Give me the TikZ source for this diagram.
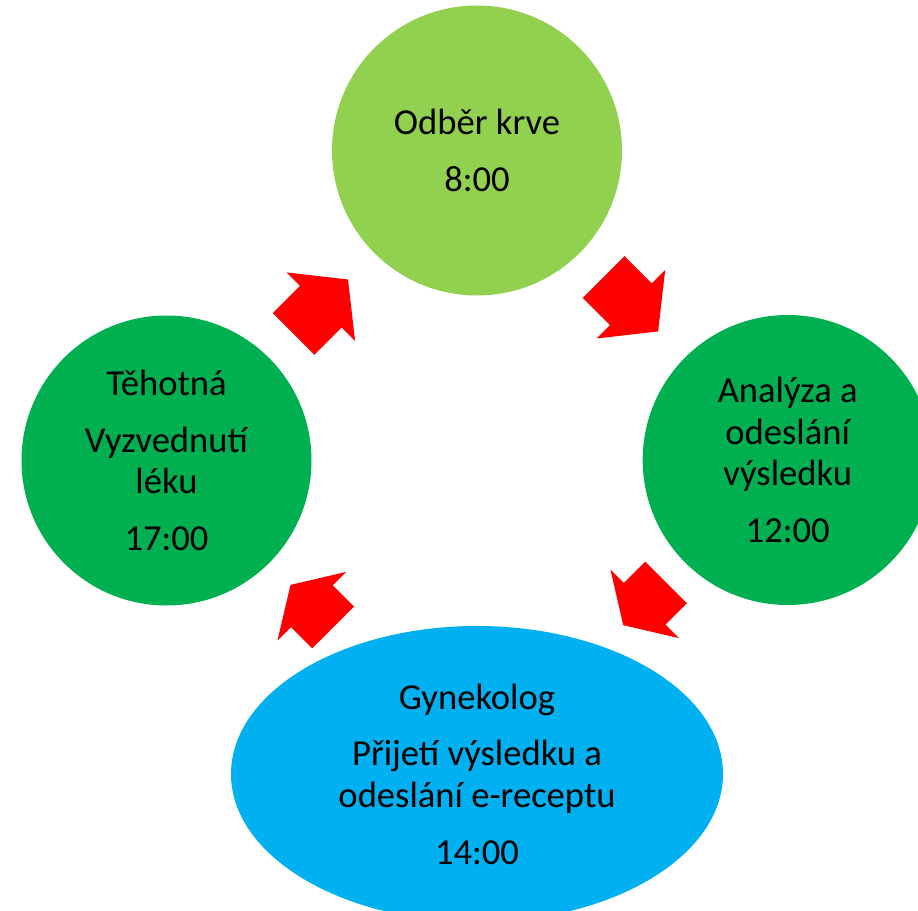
\documentclass[tikz,border=0pt]{standalone}
\usepackage{fontspec}
\setmainfont{Carlito}
\usetikzlibrary{shapes.geometric}

\definecolor{lightgreen}{HTML}{92D050}
\definecolor{darkgreen}{HTML}{00B050}
\definecolor{skyblue}{HTML}{00B0F0}
\definecolor{arrowred}{HTML}{FF0000}

\tikzset{
	stage/.style = {circle, minimum size=145pt, inner sep=0pt, align=center,
		font=\fontsize{18.3}{20.75}\selectfont},
	doctor/.style = {ellipse, minimum width=246pt, minimum height=148pt, inner sep=0pt,
		align=center, font=\fontsize{18.3}{20.75}\selectfont}
}

\begin{document}
\begin{tikzpicture}[x = 0.5pt, y = -0.5pt]
	\useasboundingbox (0,0) rectangle (918,911);

	% steps of the cycle
	\node [stage, fill=lightgreen] (odber) at (477,150.5) {Odběr krve\\[7.6pt]8:00};
	\node [stage, fill=darkgreen] (analyza) at (787.7,460) {Analýza a\\odeslání\\výsledku\\[7.6pt]12:00};
	\node [doctor, fill=skyblue] (gynekolog) at (477,774) {Gynekolog\\[7.6pt]Přijetí výsledku a\\odeslání e-receptu\\[7.6pt]14:00};
	\node [stage, fill=darkgreen] (tehotna) at (166.5,460.5) {Těhotná\\[7.6pt]Vyzvednutí\\léku\\[7.6pt]17:00};

	% block arrows between the steps
	\foreach \px/\py/\ang/\len in {320.8/306.7/45/38.5, 630.9/304.2/-45/38.5, 644.7/603.8/-135/30.3, 311.8/606.2/135/30.1}
	{
		\fill [arrowred, shift={(\px,\py)}, rotate=\ang]
			(-\len,-29.5) -- (0,-29.5) -- (0,-48.5) -- (\len,0) -- (0,48.5) -- (0,29.5) -- (-\len,29.5) -- cycle;
	}
\end{tikzpicture}
\end{document}
